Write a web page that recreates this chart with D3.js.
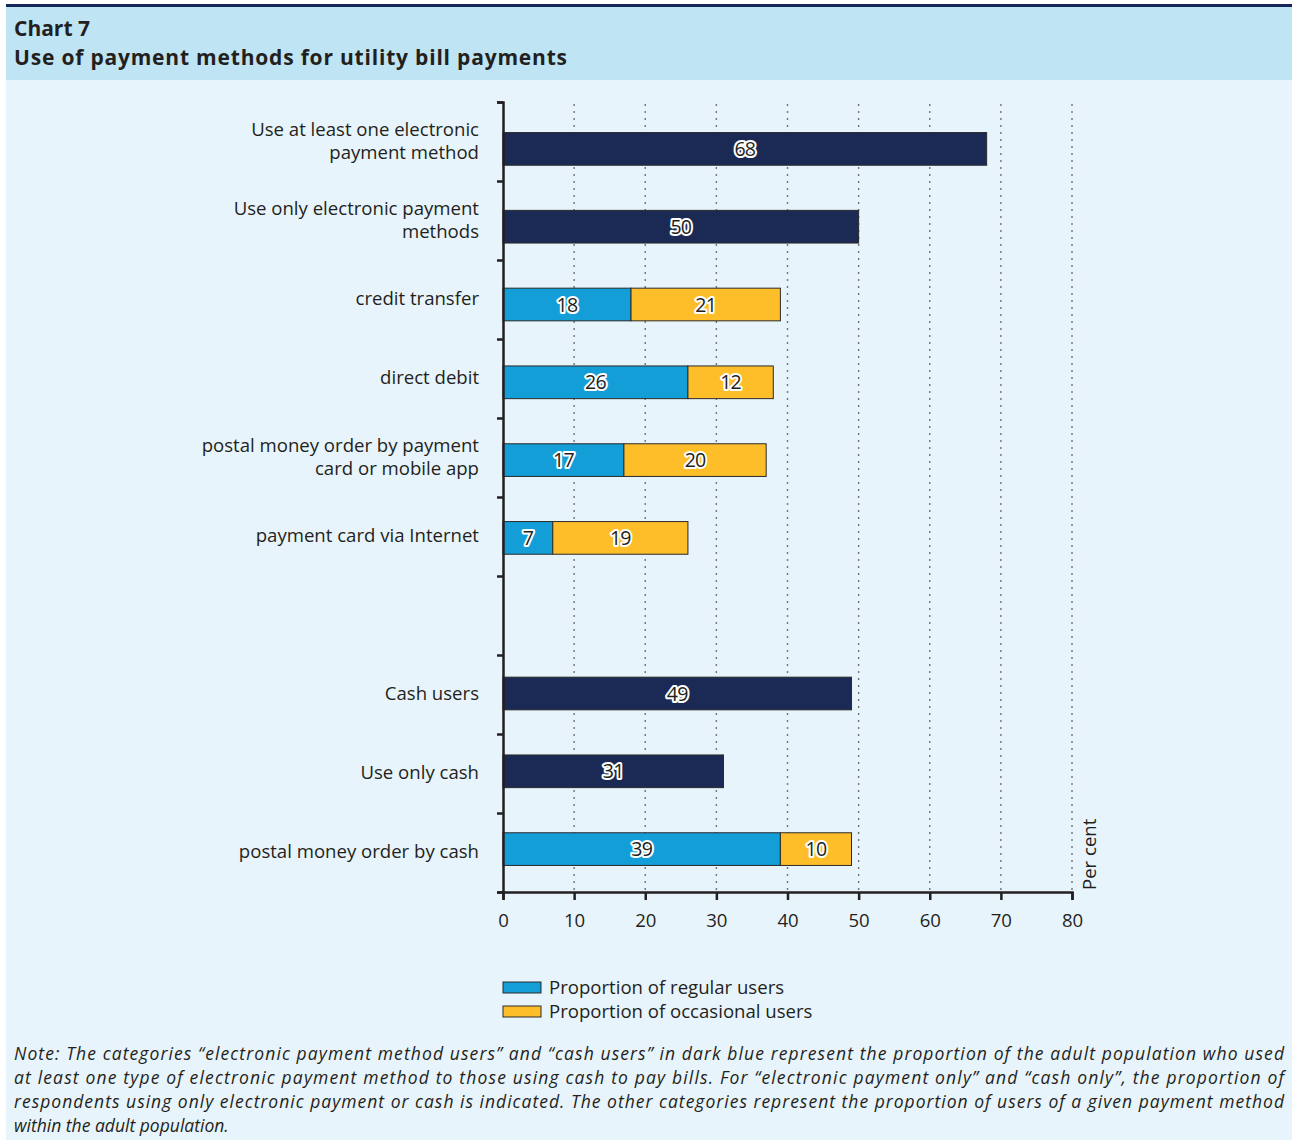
<!DOCTYPE html>
<html>
<head>
<meta charset="utf-8">
<script src="https://cdn.jsdelivr.net/npm/d3@7"></script>
<style>
  body { margin: 0; background: #fff; }
  svg text { font-family: "Open Sans", Lato, sans-serif; fill: #231f20; }
</style>
</head>
<body>
<script>
// Chart data
var categories = [
  "Use at least one electronic|payment method",
  "Use only electronic payment|methods",
  "credit transfer",
  "direct debit",
  "postal money order by payment|card or mobile app",
  "payment card via Internet",
  "",
  "Cash users",
  "Use only cash",
  "postal money order by cash"
];
var totals   = [68, 50, null, null, null, null, null, 49, 31, null];
var regular  = [null, null, 18, 26, 17, 7, null, null, null, 39];
var occasional = [null, null, 21, 12, 20, 19, null, null, null, 10];
var xTicks = [0, 10, 20, 30, 40, 50, 60, 70, 80];
var legendLabels = ["Proportion of regular users", "Proportion of occasional users"];
var noteLines = [
  "Note: The categories \u201celectronic payment method users\u201d and \u201ccash users\u201d in dark blue represent the proportion of the adult population who used",
  "at least one type of electronic payment method to those using cash to pay bills. For \u201celectronic payment only\u201d and \u201ccash only\u201d, the proportion of",
  "respondents using only electronic payment or cash is indicated. The other categories represent the proportion of users of a given payment method",
  "within the adult population."
];

var colNavy = "#1b2a55", colBlue = "#139ed8", colYellow = "#fdbe2a";

var W = 1292, H = 1142;
var svg = d3.select("body").append("svg").attr("width", W).attr("height", H);

// scale a text's font size so it spans the wanted width
function fitSize(sel, size, target){
  sel.attr("font-size", size);
  var w = sel.node().getComputedTextLength();
  var s = size * target / w;
  sel.attr("font-size", s);
  return s;
}

// panel background and header
svg.append("rect").attr("x", 6).attr("y", 80).attr("width", W - 6).attr("height", 1060).attr("fill", "#e8f4fb");
svg.append("rect").attr("x", 6).attr("y", 6).attr("width", W - 6).attr("height", 74).attr("fill", "#bfe4f3");
svg.append("rect").attr("x", 6).attr("y", 4).attr("width", W - 6).attr("height", 3).attr("fill", "#14265a");
svg.append("text").attr("x", 14).attr("y", 35.5).attr("font-size", 21).attr("font-weight", "bold").text("Chart 7");
svg.append("text").attr("x", 14).attr("y", 64.5).attr("font-size", 21).attr("font-weight", "bold")
  .attr("textLength", 553).attr("lengthAdjust", "spacing")
  .text("Use of payment methods for utility bill payments");

// base text size taken from the first category label width
var probe = svg.append("text").text("Use at least one electronic");
var fs = fitSize(probe, 18, 228);
probe.remove();

// scales
var x = d3.scaleLinear().domain([0, 80]).range([503, 1072]);
var y = d3.scaleBand().domain(d3.range(categories.length)).range([110, 888]).paddingInner(0.58).paddingOuter(0.29);
var yTick = d3.scaleLinear().domain([0, categories.length]).range([102, 892]);

// gridlines
svg.append("g").selectAll("line").data(xTicks.slice(1)).enter().append("line")
  .attr("x1", function(d){ return x(d); }).attr("x2", function(d){ return x(d); })
  .attr("y1", 104).attr("y2", 892)
  .attr("stroke", "#6f747a").attr("stroke-width", 1.4).attr("stroke-dasharray", "2,5");

// bars
var bars = svg.append("g");
function labelText(g, cx, cy, v){
  g.append("text").attr("x", cx).attr("y", cy).attr("dy", "0.36em")
    .attr("text-anchor", "middle").attr("font-size", fs + 1)
    .attr("stroke", "#fff").attr("stroke-width", 4).attr("stroke-linejoin", "round")
    .attr("paint-order", "stroke").style("letter-spacing", "-0.8px").text(v);
}
categories.forEach(function(c, i){
  var y0 = y(i), bh = y.bandwidth();
  if (totals[i] != null) {
    bars.append("rect").attr("x", x(0)).attr("y", y0).attr("width", x(totals[i]) - x(0)).attr("height", bh)
      .attr("fill", colNavy).attr("stroke", "#2a2a2a").attr("stroke-width", 1);
    labelText(bars, (x(0) + x(totals[i])) / 2, y0 + bh / 2, totals[i]);
  }
  if (regular[i] != null) {
    bars.append("rect").attr("x", x(0)).attr("y", y0).attr("width", x(regular[i]) - x(0)).attr("height", bh)
      .attr("fill", colBlue).attr("stroke", "#2a2a2a").attr("stroke-width", 1);
    bars.append("rect").attr("x", x(regular[i])).attr("y", y0)
      .attr("width", x(regular[i] + occasional[i]) - x(regular[i])).attr("height", bh)
      .attr("fill", colYellow).attr("stroke", "#2a2a2a").attr("stroke-width", 1);
    labelText(bars, (x(0) + x(regular[i])) / 2, y0 + bh / 2, regular[i]);
    labelText(bars, (x(regular[i]) + x(regular[i] + occasional[i])) / 2, y0 + bh / 2, occasional[i]);
  }
});

// category labels
var lab = svg.append("g");
categories.forEach(function(c, i){
  if (!c) return;
  var lines = c.split("|");
  var cy = yTick(i + 0.5);
  var t = lab.append("text").attr("text-anchor", "end").attr("font-size", fs);
  lines.forEach(function(l, k){
    t.append("tspan").attr("x", 479)
      .attr("y", cy + (k - (lines.length - 1) / 2) * 23).attr("dy", "0.3em").text(l);
  });
});

// axes
var xAxis = svg.append("g").attr("transform", "translate(0,892)")
  .call(d3.axisBottom(x).tickValues(xTicks).tickSize(8).tickPadding(14));
xAxis.select(".domain").attr("stroke", "#231f20").attr("stroke-width", 2.5);
xAxis.selectAll(".tick line").attr("stroke", "#231f20").attr("stroke-width", 2.5);
xAxis.selectAll(".tick text").attr("font-size", fs).attr("font-family", "'Open Sans', sans-serif").attr("fill", "#231f20");

var yAxis = svg.append("g").attr("transform", "translate(503,0)")
  .call(d3.axisLeft(yTick).tickValues(d3.range(categories.length + 1)).tickSize(6).tickFormat(""));
yAxis.select(".domain").attr("stroke", "#231f20").attr("stroke-width", 2.5);
yAxis.selectAll(".tick line").attr("stroke", "#231f20").attr("stroke-width", 2.5);

svg.append("text").attr("transform", "translate(1096,890) rotate(-90)")
  .attr("font-size", fs).text("Per cent");

// legend
var leg = svg.append("g");
[colBlue, colYellow].forEach(function(col, i){
  leg.append("rect").attr("x", 503).attr("y", 982 + i * 24).attr("width", 38).attr("height", 11)
    .attr("fill", col).attr("stroke", "#2a2a2a").attr("stroke-width", 1);
  leg.append("text").attr("x", 549).attr("y", 994 + i * 24).attr("font-size", fs).text(legendLabels[i]);
});

// note: size fitted to the first line, justified like the reference
var noteSize = null;
noteLines.forEach(function(l, i){
  var t = svg.append("text").attr("x", 14).attr("y", 1060 + i * 24)
    .attr("font-style", "italic").text(l);
  if (i === 0) noteSize = Math.min(fitSize(t, 17, 1270), 17.5);
  t.attr("font-size", noteSize);
  if (i < noteLines.length - 1) t.attr("textLength", 1270).attr("lengthAdjust", "spacing");
});
</script>
</body>
</html>
